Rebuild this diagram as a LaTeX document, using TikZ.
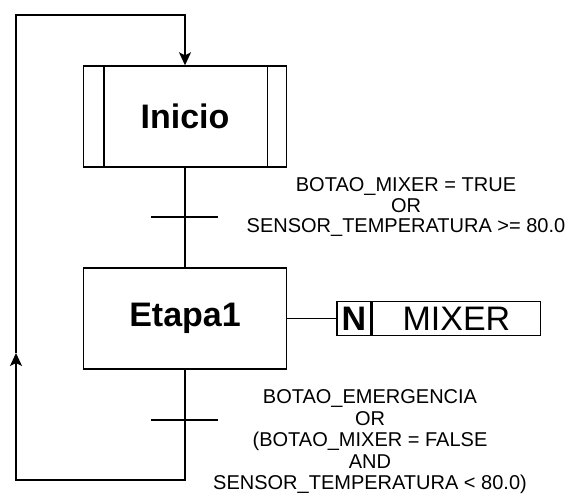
\documentclass[tikz,border=0pt]{standalone}
\usepackage{fontspec}
\setmainfont{Liberation Sans}
\usetikzlibrary{arrows.meta}
\begin{document}
\begin{tikzpicture}[x=1pt,y=-1pt,
  line width=1.4pt,
  stepbox/.style={draw, minimum width=203pt, minimum height=101pt, inner sep=0pt, font=\fontsize{34}{40}\selectfont\bfseries},
  actbox/.style={draw, minimum height=34pt, inner sep=0pt, font=\fontsize{34}{40}\selectfont},
  cond/.style={align=center, font=\fontsize{20}{20}\selectfont, inner sep=0pt},
  condb/.style={align=center, font=\fontsize{20}{21.5}\selectfont, inner sep=0pt},
  arr/.style={-{Stealth[length=13pt,width=12pt,inset=3pt]}},
]
\useasboundingbox (0,0) rectangle (575,501);
\node[stepbox] (inicio) at (185,116.5) {Inicio};
\draw ([xshift=21pt]inicio.north west) -- ([xshift=21pt]inicio.south west);
\draw ([xshift=-20pt]inicio.north east) -- ([xshift=-20pt]inicio.south east);
\node[stepbox] (etapa) at (185,318.5) {Etapa1};
\node[actbox, minimum width=34pt, font=\fontsize{34}{40}\selectfont\bfseries] (n) at (354,318.5) {N};
\node[actbox, minimum width=168pt, anchor=west] (mixer) at (n.east) {MIXER};
\draw (etapa.east) -- (n.west);
\draw (inicio.south) -- (etapa.north);
\coordinate (t1) at (185,217);
\draw ([xshift=-34pt]t1) -- ([xshift=33pt]t1);
\coordinate (t2) at (185,420);
\draw ([xshift=-34pt]t2) -- ([xshift=33pt]t2);
\coordinate (c1) at (16,480);
\coordinate (c2) at (16,353);
\coordinate (c3) at (16,15);
\draw[arr] (etapa.south) |- (c1) -- (c2);
\draw[arr] (c2) -- (c3) -| (inicio.north);
\node[cond] (l1) at (406,207) {BOTAO\_MIXER = TRUE\\OR\\SENSOR\_TEMPERATURA >= 80.0};
\node[condb] (l2) at (370,442) {BOTAO\_EMERGENCIA\\OR\\(BOTAO\_MIXER = FALSE\\AND\\SENSOR\_TEMPERATURA < 80.0)};
\end{tikzpicture}
\end{document}
